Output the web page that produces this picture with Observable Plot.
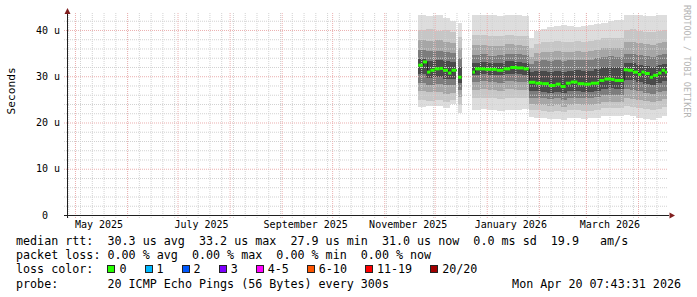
<!DOCTYPE html>
<html>
<head>
<meta charset="utf-8">
<script src="https://cdn.jsdelivr.net/npm/d3@7"></script>
<script src="https://cdn.jsdelivr.net/npm/@observablehq/plot@0.6"></script>
<style>
  body { margin: 0; background: #fff; }
  #wrap { position: relative; width: 697px; height: 297px; overflow: hidden; background: #fff;
          font-family: "DejaVu Sans Mono", monospace; }
  #chart { position: absolute; left: 0; top: 0; }
  .leg { position: absolute; left: 16px; font-size: 11.7px; line-height: 14px; white-space: pre; color: #000; }
  .box { display: inline-block; width: 8px; height: 8px; box-sizing: border-box; border: 1px solid #222; margin-right: 4px; vertical-align: baseline; }
  .item { margin-right: 18px; }
  #wm { position: absolute; left: 682px; top: 5px; writing-mode: vertical-rl; font-size: 8.5px; line-height: 10px; color: #b4b4b4; white-space: pre; }
</style>
</head>
<body>
<div id="wrap">
  <div id="chart"></div>
  <div class="leg" id="l1" style="top:234.3px"></div>
  <div class="leg" id="l2" style="top:248.3px"></div>
  <div class="leg" id="l3" style="top:261.6px"></div>
  <div class="leg" id="l4" style="top:276.6px; width:665px"></div>
  <div id="wm">RRDTOOL / TOBI OETIKER</div>
</div>
<script>
// ---------- axis ticks ----------
const xTicks = ["2025-05-15", "2025-07-15", "2025-09-15", "2025-11-15", "2026-01-15", "2026-03-15"];
const yTicks = [0, 10, 20, 30, 40];
const yTickLabels = ["0\u00a0\u00a0", "10 u", "20 u", "30 u", "40 u"];
const xDomain = [new Date("2025-04-26T06:00:00Z"), new Date("2026-04-18T06:00:00Z")];
const yDomain = [0, 43.67];

// ---------- median RTT (microseconds), step buckets; null = no data ----------
const medianT = [
  "2025-11-21T06:00Z","2025-11-24T00:00Z","2025-11-26T12:00Z","2025-11-28T12:00Z","2025-12-01T00:00Z",
  "2025-12-04T00:00Z","2025-12-06T00:00Z","2025-12-09T00:00Z","2025-12-11T00:00Z","2025-12-14T00:00Z",
  "2025-12-15T00:00Z","2025-12-17T00:00Z",
  "2025-12-23T12:00Z","2025-12-25T00:00Z","2025-12-31T00:00Z","2026-01-04T00:00Z","2026-01-07T00:00Z",
  "2026-01-11T00:00Z","2026-01-15T00:00Z","2026-01-19T00:00Z","2026-01-23T00:00Z",
  "2026-01-26T00:00Z","2026-01-30T00:00Z","2026-02-03T00:00Z","2026-02-07T00:00Z","2026-02-11T00:00Z",
  "2026-02-14T00:00Z","2026-02-17T00:00Z","2026-02-20T00:00Z","2026-02-24T00:00Z","2026-02-28T00:00Z",
  "2026-03-04T00:00Z","2026-03-09T00:00Z","2026-03-12T00:00Z","2026-03-16T00:00Z","2026-03-18T00:00Z",
  "2026-03-23T12:00Z","2026-03-26T00:00Z","2026-03-29T00:00Z","2026-04-01T00:00Z","2026-04-03T00:00Z",
  "2026-04-05T00:00Z","2026-04-08T00:00Z","2026-04-10T00:00Z","2026-04-13T00:00Z","2026-04-15T00:00Z",
  "2026-04-17T00:00Z","2026-04-18T06:00Z"
];
const medianV = [
  32.5, 33.2, 31.0, 31.4, 31.7, 31.8, 31.4, 30.8, 31.4, null,
  29.9, null,
  31.0, 31.7, 31.6, 31.6, 31.4, 31.7, 32.0, 31.9, 31.7,
  28.8, 28.6, 28.5, 28.1, 28.4, 27.9, 28.6, 28.85, 28.5, 28.4, 28.6, 29.2, 29.5, 29.4, 29.2,
  31.5, 31.4, 31.0, 30.5, 31.0, 30.7, 29.9, 30.3, 30.8, 31.4, 31.0
];

// ---------- smoke: ping distribution envelopes (microseconds) ----------
const smokeT = [
  "2025-11-21T06:00Z","2025-11-26T00:00Z","2025-12-01T00:00Z","2025-12-06T00:00Z","2025-12-10T00:00Z",
  "2025-12-14T00:00Z",
  "2025-12-15T00:00Z",
  "2025-12-17T00:00Z",
  "2025-12-23T12:00Z","2025-12-28T00:00Z","2026-01-02T00:00Z","2026-01-07T00:00Z","2026-01-12T00:00Z","2026-01-17T00:00Z","2026-01-22T00:00Z",
  "2026-01-26T00:00Z","2026-01-29T00:00Z","2026-02-02T00:00Z","2026-02-06T00:00Z","2026-02-10T00:00Z","2026-02-14T00:00Z","2026-02-18T00:00Z",
  "2026-02-22T00:00Z","2026-02-26T00:00Z","2026-03-02T00:00Z","2026-03-06T00:00Z","2026-03-10T00:00Z","2026-03-14T00:00Z","2026-03-18T00:00Z",
  "2026-03-23T12:00Z","2026-03-27T00:00Z","2026-03-31T00:00Z","2026-04-04T00:00Z","2026-04-08T00:00Z","2026-04-12T00:00Z","2026-04-15T00:00Z",
  "2026-04-18T06:00Z"
];
const smokeHi = [43.2,43.0,43.3,42.6,42.0, null, 41.5, null,
  43.2,43.2,43.2,43.0,43.2,43.2,43.1,
  38.3,39.8,40.3,40.7,40.9,41.0,40.8,40.6,40.9,41.0,41.3,41.6,42.0,42.2,
  43.2,43.2,43.2,43.0,43.1,43.2,43.2];
const smokeU1 = [40.0,40.2,39.8,40.0,39.5, null, 38.5, null,
  38.9,39.0,38.7,38.8,39.0,38.8,38.6,
  36.0,37.0,37.4,37.5,37.6,37.4,37.5,37.6,37.5,37.6,37.9,38.2,38.3,38.2,
  40.0,40.2,39.8,39.6,39.5,39.8,40.0];
const smokeU2 = [37.8,37.6,37.9,37.5,37.2, null, 36.0, null,
  36.7,36.8,36.5,36.6,36.9,36.7,36.5,
  34.2,35.0,35.3,35.3,35.4,35.2,35.3,35.4,35.3,35.4,35.7,36.0,36.1,36.0,
  37.4,37.5,37.2,37.0,36.8,37.1,37.3];
const smokeU3 = [35.6,35.4,35.5,35.2,35.0, null, 34.0, null,
  34.6,34.7,34.4,34.5,34.8,34.7,34.5,
  32.6,33.3,33.5,33.4,33.6,33.3,33.5,33.6,33.5,33.5,33.9,34.2,34.3,34.2,
  34.8,34.9,34.6,34.4,34.2,34.5,34.7];
const smokeU4 = [33.8,33.4,33.6,33.2,33.0, null, 32.0, null,
  32.9,33.0,32.8,32.9,33.2,33.1,32.9,
  31.0,31.2,31.2,31.0,31.2,31.0,31.2,31.3,31.2,31.2,31.6,31.9,32.0,31.9,
  32.8,32.9,32.5,32.2,32.0,32.4,32.6];
const smokeL4 = [30.5,29.6,29.8,29.5,29.4, null, 28.5, null,
  30.3,30.4,30.2,30.2,30.5,30.4,30.3,
  26.8,26.7,26.6,26.4,26.6,26.3,26.7,26.8,26.6,26.6,26.9,27.3,27.4,27.3,
  29.2,29.2,28.8,28.4,28.2,28.6,28.9];
const smokeL3 = [28.6,28.2,28.4,28.0,28.0, null, 27.0, null,
  28.8,28.9,28.7,28.6,28.9,28.8,28.8,
  25.4,25.3,25.2,25.0,25.2,24.9,25.3,25.4,25.2,25.2,25.5,25.9,26.0,25.9,
  27.2,27.0,26.7,26.4,26.2,26.5,26.8];
const smokeL2 = [26.8,26.5,26.6,26.2,26.3, null, 25.5, null,
  27.1,27.2,27.0,26.9,27.2,27.1,27.0,
  23.9,23.8,23.7,23.5,23.7,23.4,23.8,23.9,23.7,23.7,24.0,24.4,24.5,24.4,
  25.3,25.1,24.9,24.6,24.4,24.7,25.0];
const smokeL1 = [24.8,24.6,24.8,24.4,24.8, null, 23.8, null,
  25.3,25.4,25.2,25.1,25.4,25.3,25.2,
  22.7,22.6,22.5,22.3,22.5,22.2,22.6,22.7,22.5,22.5,22.8,23.1,23.2,23.1,
  23.6,23.4,23.2,22.9,22.7,23.0,23.3];
const smokeLo = [23.4,23.5,23.6,23.2,24.0, null, 22.0, null,
  22.8,22.9,22.6,22.4,22.8,22.7,22.9,
  21.2,21.0,20.9,20.7,20.8,20.6,20.9,21.0,20.8,20.9,21.0,21.3,21.4,21.3,
  21.6,21.3,21.0,20.8,20.6,21.0,21.4];

// ---------- legend ----------
const legendLine1 = "median rtt:  30.3 us avg  33.2 us max  27.9 us min  31.0 us now  0.0 ms sd  19.9   am/s";
const legendLine2 = "packet loss: 0.00 % avg  0.00 % max  0.00 % min  0.00 % now";
const lossLabels = ["0", "1", "2", "3", "4-5", "6-10", "11-19", "20/20"];
const lossColors = ["#26ff00", "#00b8ff", "#0059ff", "#7e00ff", "#ff00ff", "#ff5500", "#ff0000", "#a10000"];
const probeText = "probe:       20 ICMP Echo Pings (56 Bytes) every 300s";
const stampText = "Mon Apr 20 07:43:31 2026";

// ---------- build tables ----------
const smokeRows = [];
for (let i = 0; i < smokeT.length - 1; i++) {
  if (smokeHi[i] == null) continue;
  smokeRows.push({
    x1: new Date(smokeT[i]), x2: new Date(smokeT[i + 1]),
    hi: smokeHi[i], u1: smokeU1[i], u2: smokeU2[i], u3: smokeU3[i], u4: smokeU4[i],
    l4: smokeL4[i], l3: smokeL3[i], l2: smokeL2[i], l1: smokeL1[i], lo: smokeLo[i]
  });
}
const medRows = [];
for (let i = 0; i < medianT.length - 1; i++) {
  if (medianV[i] == null) continue;
  medRows.push({x1: new Date(medianT[i]), x2: new Date(medianT[i + 1]), v: medianV[i]});
}
const medLine = [];
medRows.forEach((r, i) => {
  medLine.push({x: r.x1, y: r.v});
  const next = medRows[i + 1];
  if (!next || +next.x1 !== +r.x2) {
    medLine.push({x: r.x2, y: r.v});
    medLine.push({x: r.x2, y: NaN});
  }
});

const bands = [
  ["lo", "hi", "#dddddd"],
  ["l1", "u1", "#c6c6c6"],
  ["l2", "u2", "#a6a6a6"],
  ["l3", "u3", "#7c7c7c"],
  ["l4", "u4", "#4a4a4a"]
];

const weeks = d3.utcSunday.range(xDomain[0], xDomain[1]);
const months = d3.utcMonth.range(xDomain[0], xDomain[1]);
const minorY = d3.range(2, 44, 2).filter(v => v % 10 !== 0);
const majorY = [10, 20, 30, 40];

const arrowUp = {draw(ctx) { ctx.moveTo(0, -5.5); ctx.lineTo(3, 0.5); ctx.lineTo(-3, 0.5); ctx.closePath(); }};
const arrowRight = {draw(ctx) { ctx.moveTo(7.5, 0); ctx.lineTo(2, -3); ctx.lineTo(2, 3); ctx.closePath(); }};

const chart = Plot.plot({
  width: 697, height: 232,
  marginLeft: 67, marginRight: 30, marginTop: 13, marginBottom: 17,
  x: {type: "utc", domain: xDomain},
  y: {domain: yDomain},
  style: {fontFamily: "DejaVu Sans Mono", fontSize: "10px", color: "#000", background: "#fff", overflow: "visible"},
  marks: [
    ...bands.map(([a, b, c]) => Plot.rectY(smokeRows, {x1: "x1", x2: "x2", y1: a, y2: b, fill: c, shapeRendering: "crispEdges"})),
    Plot.ruleX(weeks, {stroke: "#d2d2d2", strokeDasharray: "1,1", insetBottom: -3}),
    Plot.ruleY(minorY, {stroke: "#d2d2d2", strokeDasharray: "1,1", insetLeft: -3}),
    Plot.ruleX(months, {stroke: "#ebb0b0", strokeDasharray: "1,1", insetBottom: -3}),
    Plot.ruleY(majorY, {stroke: "#ebb0b0", strokeDasharray: "1,1", insetLeft: -3}),
    Plot.line(medLine, {x: "x", y: "y", curve: "step-after", stroke: "#202020", strokeWidth: 1}),
    Plot.ruleY(medRows, {x1: "x1", x2: "x2", y: "v", stroke: "#26ff00", strokeWidth: 3}),
    Plot.ruleY([0], {stroke: "#1f1f1f", insetLeft: -3, insetRight: -2}),
    Plot.ruleX([xDomain[0]], {stroke: "#1f1f1f", insetTop: -3, insetBottom: -3}),
    Plot.dot([{x: xDomain[0], y: yDomain[1]}], {x: "x", y: "y", symbol: arrowUp, fill: "#801f1f"}),
    Plot.dot([{x: xDomain[1], y: 0}], {x: "x", y: "y", symbol: arrowRight, fill: "#801f1f"}),
    Plot.axisX(xTicks.map(d => new Date(d + "T00:00:00Z")), {tickFormat: d3.utcFormat("%B %Y"), tickSize: 0, tickPadding: 5.5, label: null, fontSize: 10}),
    Plot.axisY(yTicks, {tickFormat: d => yTickLabels[yTicks.indexOf(d)], tickSize: 0, tickPadding: 7.5, label: null, fontSize: 10}),
    Plot.text(["Seconds"], {frameAnchor: "left", text: d => d, rotate: -90, dx: -56, fontSize: 11.2})
  ]
});
document.getElementById("chart").appendChild(chart);

document.getElementById("l1").textContent = legendLine1;
document.getElementById("l2").textContent = legendLine2;
const l3 = document.getElementById("l3");
l3.appendChild(document.createTextNode("loss color:  "));
lossLabels.forEach((lab, i) => {
  const s = document.createElement("span");
  s.className = "item";
  const b = document.createElement("span");
  b.className = "box";
  b.style.background = lossColors[i];
  s.appendChild(b);
  s.appendChild(document.createTextNode(lab));
  l3.appendChild(s);
});
const l4 = document.getElementById("l4");
l4.textContent = probeText;
const st = document.createElement("span");
st.style.position = "absolute";
st.style.right = "0";
st.textContent = stampText;
l4.appendChild(st);
</script>
</body>
</html>
